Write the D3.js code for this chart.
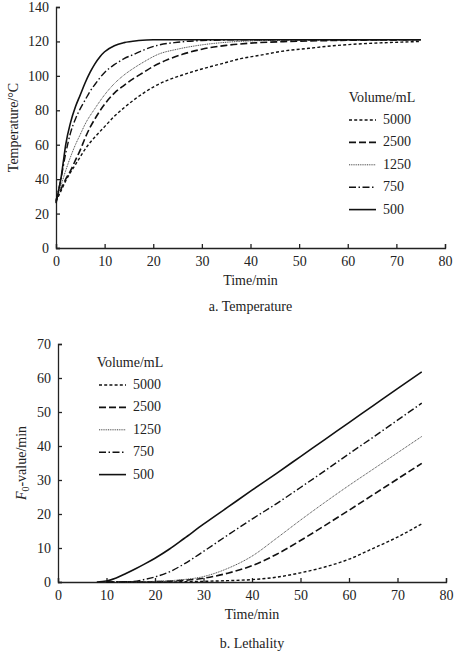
<!DOCTYPE html>
<html>
<head>
<meta charset="utf-8">
<script src="https://cdn.jsdelivr.net/npm/d3@7"></script>
<style>
  body { margin: 0; background: #fff; }
  svg { display: block; }
  svg text { font-family: "Liberation Serif", "Times New Roman", "DejaVu Serif", serif; }
</style>
</head>
<body>
<svg id="chart" width="461" height="651"></svg>
<script>
// volumes, in legend order
const volumes = ['5000', '2500', '1250', '750', '500'];

// temperature curves (time in min, temperature in °C)
const tempTime5000 = [0, 1, 2, 3, 4, 5, 6, 8, 10, 12, 14, 16, 18, 20, 23, 26, 30, 34, 38, 42, 47, 52, 57, 62, 67, 71, 75];
const tempVal5000 = [27, 33, 39, 44, 48.5, 53, 57.5, 64.5, 70.5, 76.5, 81.5, 86, 90, 93.5, 97.5, 100.5, 104, 107, 110, 112, 114.5, 116, 117.5, 118.5, 119.2, 119.6, 120];
const tempTime2500 = [0, 1, 2, 3, 4, 5, 6, 7, 8, 10, 12, 14, 16, 18, 20, 23, 26, 30, 35, 40, 48, 56, 75];
const tempVal2500 = [28, 34, 40, 45, 51, 57, 64, 70, 75, 83.5, 90, 94.5, 98.5, 102, 105.5, 109.5, 112.5, 115.5, 117.7, 119, 120, 120.5, 121];
const tempTime1250 = [0, 1, 2, 3, 4, 5, 6, 8, 10, 12, 14, 16, 18, 21, 25, 30, 35, 40, 50, 75];
const tempVal1250 = [27, 36, 45, 53, 60, 66, 72, 81, 89, 95.5, 100.5, 104.5, 108, 112.5, 115.5, 118, 119.5, 120.3, 120.8, 121];
const tempTime750 = [0, 1, 2, 3, 4, 5, 6, 7, 8, 10, 12, 14, 16, 18, 21, 25, 30, 40, 75];
const tempVal750 = [27, 40, 55, 67, 75, 81, 86, 91, 95, 102, 106.5, 110, 112.5, 115, 117.8, 119.5, 120.5, 121, 121];
const tempTime500 = [0, 0.5, 1, 1.5, 2, 3, 4, 5, 6, 7, 8, 9, 10, 12, 14, 17, 20, 30, 75];
const tempVal500 = [26, 33, 40, 50, 60, 73, 82, 89, 96, 102, 107, 111, 114, 117.5, 119.3, 120.5, 121, 121, 121];

// lethality curves (time in min, F0 in min)
const fTime5000 = [10, 20, 30, 35, 40, 45, 50, 55, 60, 65, 70, 75];
const fVal5000 = [0, 0, 0.2, 0.4, 0.7, 1.4, 2.7, 4.4, 6.7, 9.9, 13.2, 17.1];
const fTime2500 = [10, 20, 25, 30, 35, 40, 45, 50, 55, 60, 65, 70, 75];
const fVal2500 = [0, 0.1, 0.4, 1.1, 2.6, 4.8, 8.1, 12.2, 16.6, 21.1, 25.7, 30.3, 34.9];
const fTime1250 = [12, 20, 25, 30, 35, 40, 45, 50, 55, 60, 65, 70, 75];
const fVal1250 = [0, 0.2, 0.6, 1.6, 4, 7.6, 12.8, 18.2, 23.4, 28.4, 33.2, 38, 42.8];
const fTime750 = [10, 15, 18, 20, 23, 26, 30, 35, 40, 45, 50, 55, 60, 65, 70, 75];
const fVal750 = [0, 0.1, 0.8, 1.5, 3, 5.3, 9, 13.8, 18.5, 23, 27.8, 32.7, 37.7, 42.6, 47.6, 52.6];
const fTime500 = [8, 10, 12, 14, 16, 18, 20, 23, 26, 30, 35, 40, 45, 50, 55, 60, 65, 70, 75];
const fVal500 = [0, 0.3, 1.2, 2.5, 3.9, 5.4, 7, 9.7, 12.8, 17, 22, 27, 31.9, 36.9, 41.9, 46.9, 51.9, 56.9, 61.8];

const xTicks = [0, 10, 20, 30, 40, 50, 60, 70, 80];
const tempTicks = [0, 20, 40, 60, 80, 100, 120, 140];
const fTicks = [0, 10, 20, 30, 40, 50, 60, 70];

const styles = {
  '5000': { dash: '3,2.2', width: 1.4, color: '#111' },
  '2500': { dash: '7,3', width: 1.6, color: '#111' },
  '1250': { dash: '1,0.8', width: 1, color: '#444' },
  '750': { dash: '7,2.5,1.5,2.5', width: 1.4, color: '#111' },
  '500': { dash: null, width: 1.6, color: '#111' }
};

const zip = (ts, vs) => ts.map((t, i) => [t, vs[i]]);

const tempSeries = {
  '5000': zip(tempTime5000, tempVal5000),
  '2500': zip(tempTime2500, tempVal2500),
  '1250': zip(tempTime1250, tempVal1250),
  '750': zip(tempTime750, tempVal750),
  '500': zip(tempTime500, tempVal500)
};
const fSeries = {
  '5000': zip(fTime5000, fVal5000),
  '2500': zip(fTime2500, fVal2500),
  '1250': zip(fTime1250, fVal1250),
  '750': zip(fTime750, fVal750),
  '500': zip(fTime500, fVal500)
};

const serif = '"Liberation Serif", "Times New Roman", "DejaVu Serif", serif';
const fontSize = 14;
const svg = d3.select('#chart');

const panel = (opts) => {
  const x = d3.scaleLinear().domain([0, 80]).range([opts.left, opts.right]);
  const y = d3.scaleLinear().domain([0, opts.yMax]).range([opts.bottom, opts.top]);
  const g = svg.append('g');

  const xAxis = g.append('g')
    .attr('transform', `translate(0,${opts.bottom})`)
    .call(d3.axisBottom(x).tickValues(xTicks).tickSize(-4).tickPadding(8).tickFormat(d3.format('d')));
  const yAxis = g.append('g')
    .attr('transform', `translate(${opts.left},0)`)
    .call(d3.axisLeft(y).tickValues(opts.yTicks).tickSize(-4).tickPadding(7).tickFormat(d3.format('d')));
  [xAxis, yAxis].forEach(a => {
    a.attr('font-family', serif).attr('font-size', fontSize);
    a.select('.domain').attr('stroke', '#222').attr('stroke-width', 1.3);
    a.selectAll('.tick line').attr('stroke', '#222').attr('stroke-width', 1.3);
    a.selectAll('.tick text').attr('fill', '#222');
  });

  const line = d3.line().x(d => x(d[0])).y(d => y(d[1])).curve(d3.curveMonotoneX);

  volumes.forEach(v => {
    const s = styles[v];
    g.append('path')
      .datum(opts.series[v])
      .attr('fill', 'none')
      .attr('stroke', s.color)
      .attr('stroke-width', s.width)
      .attr('stroke-dasharray', s.dash)
      .attr('d', line);
  });

  // legend
  const lg = g.append('g').attr('font-family', serif).attr('font-size', fontSize).attr('fill', '#222');
  lg.append('text')
    .attr('x', opts.legX).attr('y', opts.legY)
    .attr('text-anchor', 'middle')
    .text('Volume/mL');
  volumes.forEach((v, i) => {
    const s = styles[v];
    const yy = opts.legY + 22 + i * 22.4;
    lg.append('line')
      .attr('x1', opts.legLine[0]).attr('x2', opts.legLine[1])
      .attr('y1', yy - 4).attr('y2', yy - 4)
      .attr('stroke', s.color).attr('stroke-width', s.width)
      .attr('stroke-dasharray', s.dash);
    lg.append('text')
      .attr('x', opts.legLine[1] + 7).attr('y', yy)
      .text(v);
  });

  const labels = g.append('g').attr('font-family', serif).attr('font-size', fontSize).attr('fill', '#222');
  labels.append('text')
    .attr('x', (opts.left + opts.right) / 2).attr('y', opts.bottom + 37)
    .attr('text-anchor', 'middle')
    .text('Time/min');

  labels.append('text')
    .attr('x', (opts.left + opts.right) / 2).attr('y', opts.bottom + opts.captionDy)
    .attr('text-anchor', 'middle')
    .text(opts.caption);

  const yl = labels.append('text')
    .attr('transform', `translate(${opts.yLabelX},${(opts.top + opts.bottom) / 2}) rotate(-90)`)
    .attr('text-anchor', 'middle');
  opts.yLabel(yl);
};

panel({
  left: 56, right: 445, top: 7, bottom: 248,
  yMax: 140, yTicks: tempTicks, series: tempSeries,
  legX: 382, legY: 102, legLine: [349, 376],
  caption: 'a. Temperature', captionDy: 63,
  yLabelX: 18,
  yLabel: t => t.text('Temperature/°C')
});

panel({
  left: 58, right: 446, top: 344, bottom: 582,
  yMax: 70, yTicks: fTicks, series: fSeries,
  legX: 130, legY: 367, legLine: [99, 126],
  caption: 'b. Lethality', captionDy: 66,
  yLabelX: 26,
  yLabel: t => {
    t.append('tspan').style('font-style', 'italic').text('F');
    t.append('tspan').attr('dy', 3).attr('font-size', 10).text('0');
    t.append('tspan').attr('dy', -3).text('-value/min');
  }
});
</script>
</body>
</html>
